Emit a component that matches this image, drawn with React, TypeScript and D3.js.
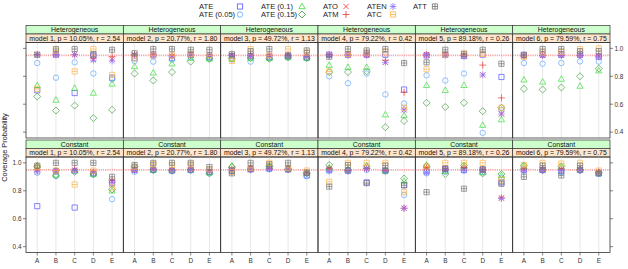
import React from "react";
import * as d3 from "d3";

const categories = ["A", "B", "C", "D", "E"];
const effects = ["Heterogeneous", "Constant"];
const models = [
  "model 1, p = 10.05%, r = 2.54",
  "model 2, p = 20.77%, r = 1.80",
  "model 3, p = 49.72%, r = 1.13",
  "model 4, p = 79.22%, r = 0.42",
  "model 5, p = 89.18%, r = 0.26",
  "model 6, p = 79.59%, r = 0.75",
];
const yTicks = [0.4, 0.6, 0.8, 1.0];
const nominal = 0.95;

// rows 0-5: Heterogeneous model 1..6, rows 6-11: Constant model 1..6; columns A..E
const ATE = [
  [0.70, 0.955, 0.68, 0.95, 0.79],
  [0.93, 0.95, 0.93, 0.955, 0.94],
  [0.945, 0.945, 0.94, 0.945, 0.935],
  [0.955, 0.955, 0.955, 0.955, 0.705],
  [0.95, 0.955, 0.945, 0.955, 0.795],
  [0.95, 0.955, 0.955, 0.955, 0.94],
  [0.69, 0.94, 0.68, 0.925, 0.855],
  [0.95, 0.95, 0.945, 0.95, 0.935],
  [0.945, 0.955, 0.96, 0.955, 0.91],
  [0.95, 0.945, 0.86, 0.945, 0.84],
  [0.94, 0.955, 0.95, 0.95, 0.86],
  [0.95, 0.95, 0.94, 0.95, 0.925],
];
const ATE05 = [
  [0.895, 0.79, 0.90, 0.82, 0.78],
  [0.91, 0.905, 0.92, 0.94, 0.93],
  [0.92, 0.905, 0.93, 0.94, 0.93],
  [0.80, 0.75, 0.82, 0.67, 0.605],
  [0.807, 0.77, 0.82, 0.395, 0.56],
  [0.895, 0.89, 0.895, 0.907, 0.905],
  [0.93, 0.905, 0.94, 0.915, 0.74],
  [0.935, 0.945, 0.94, 0.945, 0.925],
  [0.94, 0.95, 0.955, 0.95, 0.905],
  [0.945, 0.94, 0.95, 0.94, 0.77],
  [0.925, 0.935, 0.945, 0.935, 0.89],
  [0.945, 0.945, 0.935, 0.945, 0.92],
];
const ATE10 = [
  [0.735, 0.63, 0.715, 0.68, 0.745],
  [0.87, 0.825, 0.89, 0.93, 0.925],
  [0.925, 0.93, 0.93, 0.935, 0.93],
  [0.88, 0.865, 0.865, 0.525, 0.52],
  [0.735, 0.70, 0.735, 0.45, 0.49],
  [0.775, 0.76, 0.78, 0.73, 0.84],
  [0.98, 0.915, 0.945, 0.92, 0.80],
  [0.96, 0.95, 0.95, 0.95, 0.93],
  [0.98, 0.955, 0.975, 0.955, 0.925],
  [0.965, 0.95, 0.975, 0.945, 0.87],
  [0.985, 0.94, 0.975, 0.93, 0.91],
  [0.975, 0.95, 0.97, 0.95, 0.93],
];
const ATE15 = [
  [0.655, 0.555, 0.59, 0.50, 0.56],
  [0.82, 0.77, 0.83, 0.905, 0.925],
  [0.93, 0.93, 0.925, 0.935, 0.93],
  [0.83, 0.83, 0.835, 0.435, 0.48],
  [0.61, 0.58, 0.61, 0.55, 0.575],
  [0.71, 0.705, 0.72, 0.80, 0.855],
  [0.975, 0.91, 0.935, 0.92, 0.81],
  [0.975, 0.95, 0.945, 0.95, 0.925],
  [0.97, 0.955, 0.975, 0.955, 0.925],
  [0.985, 0.95, 0.975, 0.945, 0.888],
  [0.975, 0.92, 0.98, 0.925, 0.92],
  [0.98, 0.95, 0.975, 0.95, 0.93],
];
const ATO = [
  [0.955, 0.955, 0.955, 0.92, 0.925],
  [0.955, 0.955, 0.945, 0.955, 0.95],
  [0.95, 0.95, 0.95, 0.95, 0.945],
  [0.955, 0.955, 0.955, 0.90, 0.56],
  [0.955, 0.955, 0.95, 0.81, 0.53],
  [0.945, 0.95, 0.95, 0.95, 0.945],
  [0.95, 0.945, 0.95, 0.935, 0.87],
  [0.95, 0.955, 0.95, 0.955, 0.94],
  [0.955, 0.955, 0.96, 0.955, 0.93],
  [0.96, 0.945, 0.96, 0.945, 0.675],
  [0.965, 0.955, 0.96, 0.95, 0.75],
  [0.955, 0.95, 0.955, 0.95, 0.935],
];
const ATM = [
  [0.955, 0.955, 0.955, 0.93, 0.94],
  [0.955, 0.955, 0.95, 0.955, 0.95],
  [0.95, 0.95, 0.95, 0.95, 0.945],
  [0.955, 0.955, 0.955, 0.915, 0.685],
  [0.955, 0.955, 0.95, 0.88, 0.645],
  [0.945, 0.95, 0.95, 0.95, 0.945],
  [0.95, 0.945, 0.955, 0.935, 0.875],
  [0.95, 0.955, 0.95, 0.955, 0.94],
  [0.955, 0.955, 0.96, 0.955, 0.93],
  [0.96, 0.945, 0.96, 0.945, 0.675],
  [0.965, 0.955, 0.965, 0.95, 0.75],
  [0.955, 0.95, 0.955, 0.95, 0.935],
];
const ATEN = [
  [0.953, 0.955, 0.955, 0.915, 0.91],
  [0.95, 0.95, 0.94, 0.955, 0.95],
  [0.95, 0.945, 0.945, 0.945, 0.94],
  [0.95, 0.95, 0.95, 0.90, 0.56],
  [0.95, 0.95, 0.945, 0.81, 0.53],
  [0.95, 0.95, 0.95, 0.95, 0.94],
  [0.935, 0.94, 0.945, 0.93, 0.86],
  [0.945, 0.95, 0.945, 0.95, 0.935],
  [0.95, 0.95, 0.955, 0.95, 0.925],
  [0.94, 0.94, 0.955, 0.94, 0.675],
  [0.93, 0.95, 0.945, 0.945, 0.745],
  [0.94, 0.945, 0.945, 0.945, 0.93],
];
const ATC = [
  [0.71, 0.985, 0.835, 0.995, 0.81],
  [0.93, 0.95, 0.95, 0.96, 0.95],
  [0.91, 0.995, 0.95, 0.995, 0.97],
  [0.835, 0.96, 0.97, 0.975, 0.575],
  [0.85, 0.955, 0.965, 0.96, 0.575],
  [0.94, 0.97, 0.975, 0.995, 1.0],
  [0.97, 0.945, 0.845, 0.945, 0.825],
  [0.97, 0.99, 0.985, 0.99, 0.955],
  [0.935, 0.965, 1.0, 0.965, 0.945],
  [0.865, 1.0, 1.0, 1.0, 0.79],
  [0.975, 1.0, 1.0, 1.0, 0.88],
  [0.985, 1.0, 0.995, 1.0, 0.945],
];
const ATT = [
  [0.955, 0.995, 0.995, 0.96, 0.99],
  [0.965, 0.995, 0.995, 0.99, 0.99],
  [0.96, 0.98, 0.995, 0.95, 0.985],
  [0.94, 0.995, 0.985, 0.995, 0.895],
  [0.90, 0.99, 0.96, 0.99, 0.89],
  [0.955, 0.995, 0.995, 0.98, 0.98],
  [0.98, 1.0, 1.0, 1.0, 0.90],
  [0.985, 1.0, 1.0, 1.0, 0.97],
  [0.925, 1.0, 0.99, 1.0, 0.93],
  [0.83, 0.985, 0.855, 0.98, 0.84],
  [0.79, 0.96, 0.815, 0.955, 0.85],
  [0.90, 0.98, 0.91, 0.98, 0.925],
];

const series = [
  { name: "ATE", shape: "square", color: "#4b4bff", values: ATE },
  { name: "ATE (0.05)", shape: "circle", color: "#5aa6ff", values: ATE05 },
  { name: "ATE (0.1)", shape: "triangle", color: "#33dd33", values: ATE10 },
  { name: "ATE (0.15)", shape: "diamond", color: "#3c9c3c", values: ATE15 },
  { name: "ATO", shape: "times", color: "#ff2a2a", values: ATO },
  { name: "ATM", shape: "plus", color: "#e83535", values: ATM },
  { name: "ATEN", shape: "asterisk", color: "#8a6cff", values: ATEN },
  { name: "ATC", shape: "boxminus", color: "#ffb040", values: ATC },
  { name: "ATT", shape: "boxplus", color: "#707070", values: ATT },
];

const W = 628;
const H = 269;
const font = "'Liberation Sans', Arial, sans-serif";

function symbolPath(shape: string, s: number) {
  const sq = `M${-s},${-s}H${s}V${s}H${-s}Z`;
  switch (shape) {
    case "square":
      return sq;
    case "circle":
      return `M${s * 1.05},0A${s * 1.05},${s * 1.05} 0 1,1 ${-s * 1.05},0A${s * 1.05},${s * 1.05} 0 1,1 ${s * 1.05},0Z`;
    case "triangle":
      return `M0,${-s * 1.25}L${s * 1.2},${s * 0.85}L${-s * 1.2},${s * 0.85}Z`;
    case "diamond":
      return `M0,${-s * 1.35}L${s * 1.35},0L0,${s * 1.35}L${-s * 1.35},0Z`;
    case "times":
      return `M${-s},${-s}L${s},${s}M${-s},${s}L${s},${-s}`;
    case "plus":
      return `M${-s * 1.35},0H${s * 1.35}M0,${-s * 1.35}V${s * 1.35}`;
    case "asterisk":
      return `M${-s},${-s}L${s},${s}M${-s},${s}L${s},${-s}M${-s * 1.3},0H${s * 1.3}M0,${-s * 1.3}V${s * 1.3}`;
    case "boxminus":
      return `${sq}M${-s},0H${s}`;
    case "boxplus":
      return `${sq}M${-s},0H${s}M0,${-s}V${s}`;
  }
  return sq;
}

const App = () => {
  const left = 26;
  const right = 610;
  const pw = (right - left) / models.length;
  const stripH = 8.5;
  const rowTops = [25.5, 140];
  const panelH = 95.5;

  const y0 = d3.scaleLinear().domain([0.358, 1.042]);
  const legendCols = [
    { tx: 199, sx: 240, items: [0, 1] },
    { tx: 261, sx: 302, items: [2, 3] },
    { tx: 323, sx: 346, items: [4, 5] },
    { tx: 367, sx: 393, items: [6, 7] },
    { tx: 413, sx: 435, items: [8] },
  ];
  const legendRows = [6.5, 14.5];

  const panels: any[] = [];
  effects.forEach((eff, r) => {
    models.forEach((m, c) => {
      const px = left + c * pw;
      const top = rowTops[r] + 2 * stripH;
      const bottom = top + panelH;
      const x = d3.scalePoint().domain(categories).range([px, px + pw]).padding(0.6);
      const y = y0.copy().range([bottom, top]);
      panels.push({ eff, m, r, c, px, top, bottom, x, y, row: r * 6 + c });
    });
  });

  return (
    <svg width={W} height={H} style={{ position: "absolute", left: 0, top: 0, background: "#fff" }} fontFamily={font}>
      {/* legend */}
      {legendCols.map((col, ci) =>
        col.items.map((si, ri) => (
          <g key={`lg${ci}-${ri}`}>
            <text x={col.tx} y={legendRows[ri] + 2.6} fontSize={7.6} fill="#222">
              {series[si].name}
            </text>
            <path
              d={symbolPath(series[si].shape, 2.6)}
              transform={`translate(${col.sx},${legendRows[ri]})`}
              fill="none"
              stroke={series[si].color}
              strokeWidth={0.8}
            />
          </g>
        ))
      )}

      {panels.map((p) => (
        <g key={`p${p.row}`}>
          {/* strips */}
          <rect x={p.px} y={rowTops[p.r]} width={pw} height={stripH} fill="#ccffcc" stroke="#333" strokeWidth={0.7} />
          <text x={p.px + pw / 2} y={rowTops[p.r] + stripH / 2 + 2.4} fontSize={6.9} textAnchor="middle" fill="#111">
            {p.eff}
          </text>
          <rect x={p.px} y={rowTops[p.r] + stripH} width={pw} height={stripH} fill="#ffe5cc" stroke="#333" strokeWidth={0.7} />
          <text x={p.px + pw / 2} y={rowTops[p.r] + stripH * 1.5 + 2.4} fontSize={6.9} textAnchor="middle" fill="#111">
            {p.m}
          </text>
          {/* vertical grid */}
          {categories.map((k) => (
            <line key={k} x1={p.x(k)} x2={p.x(k)} y1={p.top} y2={p.bottom} stroke="#e8e8e8" strokeWidth={1} />
          ))}
          {/* nominal level */}
          <line x1={p.px} x2={p.px + pw} y1={p.y(nominal)} y2={p.y(nominal)} stroke="#f4a6a6" strokeWidth={1.8} strokeDasharray="1.2,1" />
          {/* points */}
          {series.map((s) =>
            categories.map((k, i) => (
              <path
                key={`${s.name}${k}`}
                d={symbolPath(s.shape, 2.6)}
                transform={`translate(${p.x(k)},${p.y(s.values[p.row][i])})`}
                fill="none"
                stroke={s.color}
                strokeWidth={0.8}
                opacity={0.85}
              />
            ))
          )}
          <rect x={p.px} y={p.top} width={pw} height={panelH} fill="none" stroke="#333" strokeWidth={0.8} />
          {/* y ticks on outer sides */}
          {yTicks.map((t) => (
            <g key={`t${t}`}>
              {p.c === 0 && <line x1={p.px} x2={p.px - 3} y1={p.y(t)} y2={p.y(t)} stroke="#333" strokeWidth={0.6} />}
              {p.c === 5 && <line x1={p.px + pw} x2={p.px + pw + 3} y1={p.y(t)} y2={p.y(t)} stroke="#333" strokeWidth={0.6} />}
            </g>
          ))}
          {p.r === 0 && p.c === 5 &&
            yTicks.map((t) => (
              <text key={`yl${t}`} x={p.px + pw + 4.5} y={p.y(t) + 2.3} fontSize={6.4} fill="#333">
                {t.toFixed(1)}
              </text>
            ))}
          {p.r === 1 && p.c === 0 &&
            yTicks.map((t) => (
              <text key={`yl${t}`} x={p.px - 4.5} y={p.y(t) + 2.3} fontSize={6.4} fill="#333" textAnchor="end">
                {t.toFixed(1)}
              </text>
            ))}
          {p.r === 1 &&
            categories.map((k) => (
              <g key={`xl${k}`}>
                <line x1={p.x(k)} x2={p.x(k)} y1={p.bottom} y2={p.bottom + 3} stroke="#333" strokeWidth={0.6} />
                <text x={p.x(k)} y={p.bottom + 10} fontSize={6.4} textAnchor="middle" fill="#333">
                  {k}
                </text>
              </g>
            ))}
        </g>
      ))}

      <text
        transform={`translate(6.5,${(rowTops[0] + 2 * stripH + rowTops[1] + 2 * stripH + panelH) / 2}) rotate(-90)`}
        fontSize={7.4}
        textAnchor="middle"
        fill="#222"
      >
        Coverage Probability
      </text>
    </svg>
  );
};

export default App;
